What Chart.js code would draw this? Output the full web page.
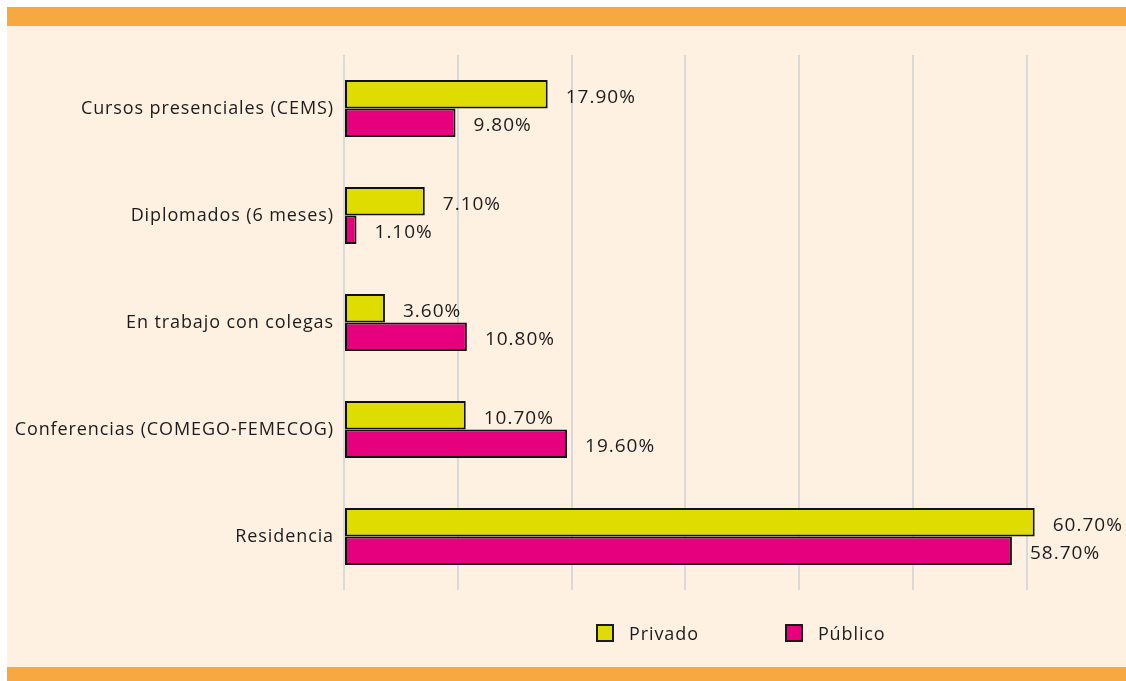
<!DOCTYPE html>
<html lang="es">
<head>
<meta charset="utf-8">
<title>Formación: Privado vs Público</title>
<script src="https://cdn.jsdelivr.net/npm/chart.js@4"></script>
<style>
    html, body { margin: 0; padding: 0; background: #ffffff; }
    #marco { position: relative; width: 1126px; height: 681px; overflow: hidden; }
    #fondo { position: absolute; left: 7px; top: 7px; right: 0; bottom: 0; background: #FEF1E2; }
    .franja { position: absolute; left: 7px; right: 0; background: #F8A841; }
    #franjaArriba { top: 7px; height: 19px; }
    #franjaAbajo { top: 667px; height: 14px; }
    #grafico { position: absolute; left: 0; top: 0; }
    #leyenda { position: absolute; left: 596px; top: 621px; display: flex; align-items: center;
               font-family: "Open Sans", Lato, sans-serif; font-size: 18px; letter-spacing: 0.9px; color: #1c1c1c; }
    .item { display: flex; align-items: center; }
    .caja { width: 14px; height: 14px; border: 2px solid #1a1a1a; margin-right: 15px; }
</style>
</head>
<body>
<div id="marco">
    <div id="fondo"></div>
    <div id="franjaArriba" class="franja"></div>
    <div id="franjaAbajo" class="franja"></div>
    <canvas id="grafico" width="1126" height="681"></canvas>
    <div id="leyenda"></div>
</div>
<script>
// Categorías (de arriba hacia abajo)
const categorias = [
    'Cursos presenciales (CEMS)',
    'Diplomados (6 meses)',
    'En trabajo con colegas',
    'Conferencias (COMEGO-FEMECOG)',
    'Residencia'
];

// Porcentajes por tipo de práctica
const privado = [17.9, 7.1, 3.6, 10.7, 60.7];
const publico = [9.8, 1.1, 10.8, 19.6, 58.7];

// Marcas del eje de valores
const marcasEje = [0, 10, 20, 30, 40, 50, 60];

const fuente = '"Open Sans", Lato, sans-serif';

// Espaciado de letras más abierto, como en el original
const espaciado = {
    id: 'espaciado',
    beforeDraw(chart) { chart.ctx.letterSpacing = '0.9px'; },
    afterDraw(chart) { chart.ctx.letterSpacing = '0px'; }
};

// Plugin para escribir el porcentaje a la derecha de cada barra
const etiquetasValor = {
    id: 'etiquetasValor',
    afterDatasetsDraw(chart) {
        const ctx = chart.ctx;
        ctx.save();
        ctx.font = '19px ' + fuente;
        ctx.letterSpacing = '1px';
        ctx.fillStyle = '#1c1c1c';
        ctx.textAlign = 'left';
        ctx.textBaseline = 'middle';
        chart.data.datasets.forEach((ds, i) => {
            chart.getDatasetMeta(i).data.forEach((barra, j) => {
                const texto = ds.data[j].toFixed(2) + '%';
                ctx.fillText(texto, barra.x + 18, barra.y + 3);
            });
        });
        ctx.restore();
    }
};

const ctx = document.getElementById('grafico').getContext('2d');
const grafico = new Chart(ctx, {
    type: 'bar',
    data: {
        labels: categorias,
        datasets: [
            {
                label: 'Privado',
                data: privado,
                backgroundColor: '#DEDC00',
                borderColor: '#111111',
                borderWidth: 2,
                borderSkipped: false
            },
            {
                label: 'Público',
                data: publico,
                backgroundColor: '#E6007E',
                borderColor: '#111111',
                borderWidth: 2,
                borderSkipped: false
            }
        ]
    },
    options: {
        indexAxis: 'y',
        responsive: false,
        animation: false,
        categoryPercentage: 0.535,
        barPercentage: 1.0,
        layout: { padding: { top: 55, bottom: 91, left: 0, right: 31 } },
        plugins: {
            legend: { display: false },
            tooltip: { enabled: false }
        },
        scales: {
            x: {
                min: 0,
                max: 66,
                afterBuildTicks: (escala) => {
                    escala.ticks = marcasEje.map(v => ({ value: v }));
                },
                ticks: { display: false },
                border: { display: false },
                grid: { color: '#d9d9d9', lineWidth: 2, drawTicks: false }
            },
            y: {
                afterFit: (escala) => { escala.width = 344; },
                border: { display: false },
                grid: { display: false, drawTicks: false },
                ticks: {
                    padding: 10,
                    color: '#1c1c1c',
                    font: { family: fuente, size: 18 }
                }
            }
        }
    },
    plugins: [espaciado, etiquetasValor]
});

// Leyenda en HTML a partir de los datasets
const leyenda = document.getElementById('leyenda');
grafico.data.datasets.forEach((ds, i) => {
    const item = document.createElement('div');
    item.className = 'item';
    if (i > 0) item.style.marginLeft = '86px';
    const caja = document.createElement('span');
    caja.className = 'caja';
    caja.style.background = ds.backgroundColor;
    const texto = document.createElement('span');
    texto.textContent = ds.label;
    item.appendChild(caja);
    item.appendChild(texto);
    leyenda.appendChild(item);
});
</script>
</body>
</html>
